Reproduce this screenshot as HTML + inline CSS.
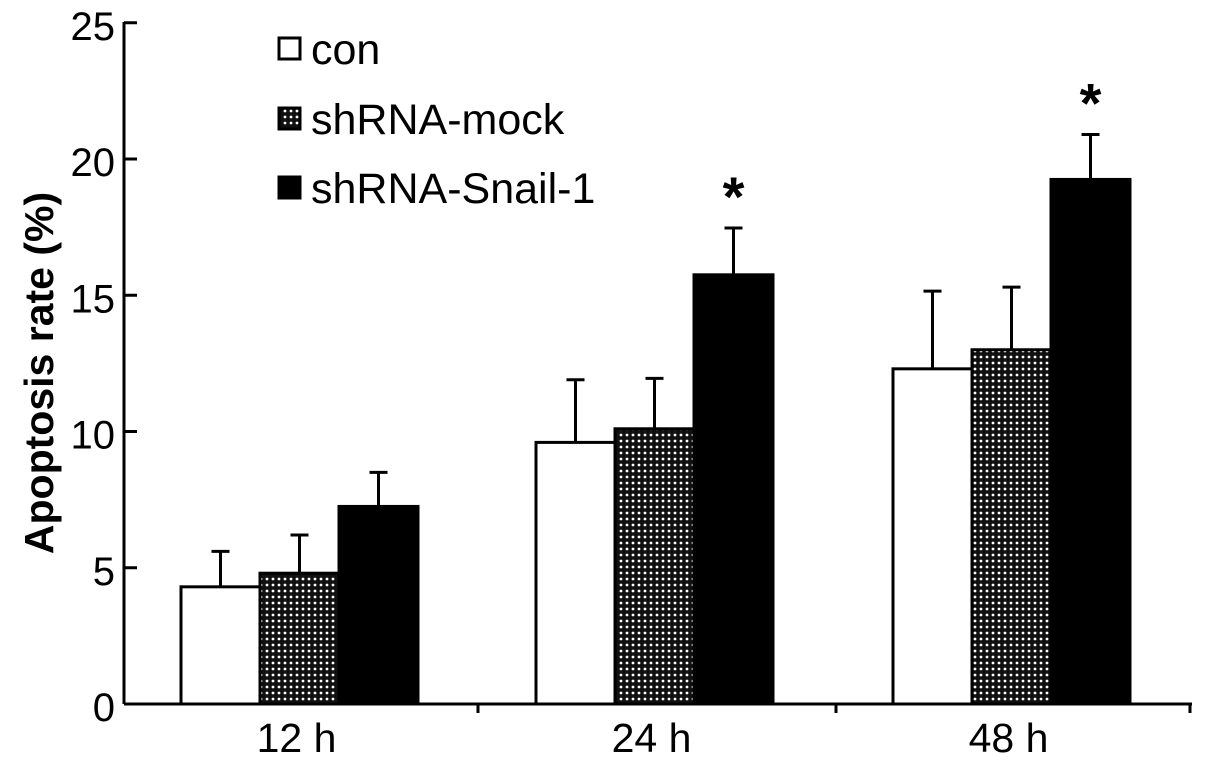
<!DOCTYPE html>
<html><head><meta charset="utf-8"><style>
html,body{margin:0;padding:0;background:#fff;}
svg{display:block;font-family:"Liberation Sans",Arial,sans-serif;}
</style></head><body>
<svg id="chart" width="1205" height="765">
<defs>
<pattern id="dots" width="6" height="6" patternUnits="userSpaceOnUse">
<rect width="6" height="6" fill="#111"/><circle cx="3" cy="3" r="1.4" fill="#fff"/>
</pattern>
</defs>
</svg>
<script>
const groups = ["12 h","24 h","48 h"];
const seriesNames = ["con","shRNA-mock","shRNA-Snail-1"];
const conVals = [4.3, 9.6, 12.3];
const mockVals = [4.8, 10.1, 13.0];
const snailVals = [7.25, 15.75, 19.25];
const conErr = [1.3, 2.3, 2.85];
const mockErr = [1.4, 1.85, 2.3];
const snailErr = [1.25, 1.72, 1.65];
const yTicks = [0,5,10,15,20,25];
const starred = [[false,false,false],[false,false,true],[false,false,true]];

const NS="http://www.w3.org/2000/svg";
const svg=document.getElementById('chart');
const y0=704, pxPer=27.25;
const y=v=>y0-v*pxPer;
const groupStart=[181,536,893], barW=79;
const x=(g,s)=>groupStart[g]+s*barW;
function mk(t,a){const e=document.createElementNS(NS,t);for(const k in a)e.setAttribute(k,a[k]);svg.appendChild(e);return e;}

const vals=[conVals,mockVals,snailVals], errs=[conErr,mockErr,snailErr];
const fills=["#fff","url(#dots)","#000"];
for(let g=0;g<groups.length;g++){
 for(let s=0;s<3;s++){
  const v=vals[s][g], e=errs[s][g], bx=x(g,s), cx=bx+barW/2;
  let l=mk('line',{x1:cx,x2:cx,y1:y(v),y2:y(v+e),stroke:'#000','stroke-width':3});
  
  
  l=mk('line',{x1:cx-9,x2:cx+9,y1:y(v+e),y2:y(v+e),stroke:'#000','stroke-width':3});
  
  
  const r=mk('rect',{x:bx,y:y(v),width:barW,height:y0-y(v),fill:fills[s],stroke:'#000','stroke-width':3});
  
  
  if(starred[g][s]){
   const t=mk('text',{x:cx,y:y(v+e)-12,'font-size':56,'text-anchor':'middle','font-weight':'bold'});
   t.textContent='*';
   
   
  }
 }
 const t=mk('text',{x:groupStart[g]+barW*1.5-3,y:752,'font-size':41,'text-anchor':'middle'});
 t.textContent=groups[g];
 
 
}
let a=mk('line',{x1:124,x2:124,y1:22,y2:y0,stroke:'#000','stroke-width':3});

a=mk('line',{x1:124,x2:1192,y1:y0,y2:y0,stroke:'#000','stroke-width':3});

[478,836,1190].forEach(px=>{const l=mk('line',{x1:px,x2:px,y1:y0,y2:y0+9,stroke:'#000','stroke-width':3});
});
yTicks.forEach(v=>{
 const l=mk('line',{x1:124,x2:137,y1:y(v),y2:y(v),stroke:'#000','stroke-width':3});
 
 const t=mk('text',{x:115,y:y(v)+17,'font-size':40,'text-anchor':'end'});
 t.textContent=v;
 
});
const yt=mk('text',{x:0,y:0,'font-size':41,'font-weight':'bold','text-anchor':'middle',transform:'translate(53,373) rotate(-90)'});
yt.textContent='Apoptosis rate (%)';

const legY=[48,118,187];
seriesNames.forEach((n,i)=>{
 const r=mk('rect',{x:279,y:legY[i]-10,width:21,height:21,fill:fills[i],stroke:'#000','stroke-width':3});
 
 const t=mk('text',{x:311,y:legY[i]+16,'font-size':43});
 t.textContent=n;
 
});
</script>
</body></html>
